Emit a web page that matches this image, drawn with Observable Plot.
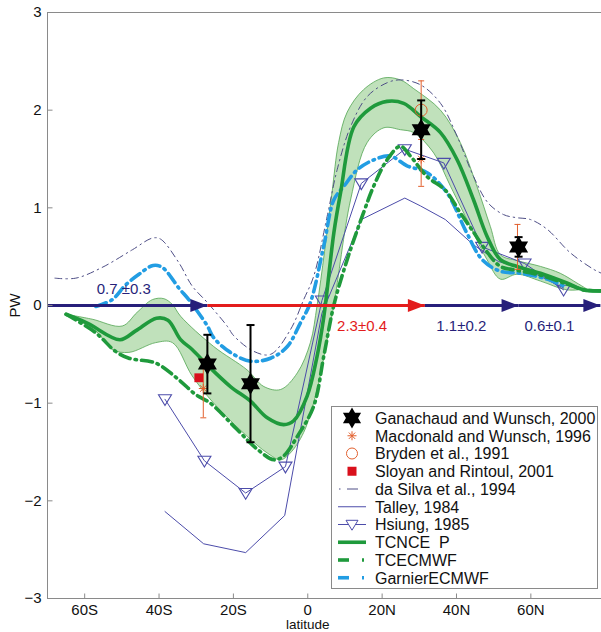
<!DOCTYPE html>
<html><head><meta charset="utf-8">
<script src="https://cdn.jsdelivr.net/npm/d3@7"></script>
<script src="https://cdn.jsdelivr.net/npm/@observablehq/plot@0.6"></script>
<style>
html,body{margin:0;padding:0;background:#fff;}
#wrap{position:relative;width:601px;height:632px;overflow:hidden;font-family:"Liberation Sans",Arial,Helvetica,sans-serif;}
</style></head><body><div id="wrap"></div>
<script>
// ---------- data (latitude, PW) ----------
const xTicks = [-60, -40, -20, 0, 20, 40, 60];
const xTickLabels = ["60S", "40S", "20S", "0", "20N", "40N", "60N"];
const yTicks = [-3, -2, -1, 0, 1, 2, 3];
const yTickLabels = ["\u22123", "\u22122", "\u22121", "0", "1", "2", "3"];

const tcncep = [[-65,-0.09],[-59.3,-0.18],[-50.5,-0.35],[-46.3,-0.26],[-40.7,-0.13],[-37.6,-0.15],[-34.2,-0.35],[-31.1,-0.45],[-27,-0.61],[-20.8,-0.83],[-15.4,-0.98],[-10.9,-1.15],[-6.5,-1.22],[-3.8,-1.18],[-0.2,-0.93],[2.5,-0.52],[4.3,-0.12],[7,0.74],[8.8,1.15],[12.4,1.83],[16.9,2.02],[21.3,2.09],[25.8,2.07],[30.5,1.93],[35.7,1.77],[40.2,1.49],[44.6,1.08],[48.2,0.71],[51.8,0.47],[56.3,0.40],[62.6,0.33],[69.7,0.23],[74.2,0.16],[78.9,0.15]];
const bandUpper = [[-65,-0.09],[-58,-0.14],[-49.9,-0.21],[-45.9,-0.07],[-41.8,0.06],[-38.7,0.07],[-36.4,0.01],[-34.2,-0.11],[-25.3,-0.42],[-16.3,-0.66],[-11.8,-0.83],[-7.3,-0.86],[-2.8,-0.69],[0.7,-0.38],[2.5,0.0],[4.5,0.55],[6.5,1.15],[8.3,1.67],[10.6,1.98],[15,2.21],[20.4,2.33],[24.9,2.31],[28.5,2.22],[35.7,2.0],[41,1.67],[45.5,1.22],[49.1,0.81],[51.8,0.52],[56.3,0.46],[62.6,0.40],[67.9,0.33],[72.4,0.23],[75,0.17]];
const bandLower = [[-65,-0.09],[-57,-0.26],[-52.6,-0.45],[-48.1,-0.48],[-40.9,-0.38],[-36.4,-0.38],[-31.1,-0.72],[-25.3,-1.0],[-16.3,-1.34],[-10.9,-1.51],[-7.3,-1.58],[-4.7,-1.51],[-1.1,-1.30],[2.5,-0.86],[5.2,-0.35],[7,0.0],[11.5,1.08],[16,1.67],[20.5,1.82],[24.9,1.80],[28.5,1.77],[33.9,1.56],[38.4,1.22],[44.6,0.74],[48.2,0.47],[51.8,0.27],[56.3,0.32],[62.6,0.25],[69.7,0.16],[75,0.17]];
const tcecmwf = [[-65,-0.09],[-57,-0.28],[-51.7,-0.47],[-48.1,-0.54],[-40.9,-0.59],[-34.7,-0.76],[-30.2,-0.91],[-26.2,-1.0],[-19,-1.27],[-13.6,-1.47],[-9.1,-1.58],[-6.5,-1.54],[-2.8,-1.34],[1.6,-1.03],[4.3,-0.52],[7,0.0],[10.6,0.47],[15,0.95],[17.7,1.22],[21.3,1.49],[24.9,1.63],[27.6,1.53],[32.1,1.32],[37,1.18],[41,0.95],[44.6,0.75],[48.2,0.55],[51.8,0.40],[56.3,0.36],[62.6,0.31],[69.7,0.22],[74.2,0.16],[78.9,0.15]];
const garnier = [[-57,-0.01],[-52.6,0.06],[-49,0.21],[-45.4,0.32],[-41.6,0.41],[-39.1,0.39],[-34.5,0.17],[-32,0.06],[-27,-0.21],[-25.3,-0.33],[-20.8,-0.48],[-15.4,-0.57],[-10,-0.54],[-5.5,-0.42],[-2,-0.18],[0.7,0.03],[4.3,0.61],[7,1.08],[9.7,1.22],[13.3,1.39],[17.7,1.49],[22.2,1.53],[26.7,1.43],[32.1,1.36],[37.5,1.15],[42.8,0.74],[46.9,0.47],[51.8,0.35],[57.2,0.33],[64.4,0.27],[68.8,0.20]];
const daSilva = [[-68,0.28],[-62.4,0.28],[-55.3,0.39],[-47.2,0.57],[-41.8,0.69],[-39.6,0.68],[-34.7,0.44],[-31.1,0.20],[-27,0.03],[-21.7,-0.21],[-19.9,-0.31],[-14.5,-0.47],[-10,-0.50],[-4.7,-0.25],[-1.1,0.06],[1.6,0.30],[5.2,0.91],[7.9,1.39],[11.5,1.83],[16,2.14],[21.3,2.28],[24.9,2.31],[30.3,2.26],[35.7,2.07],[40.2,1.73],[44.6,1.32],[48.5,1.05],[52.7,0.93],[56,0.90],[59.9,0.88],[64.4,0.78],[70.6,0.54],[76.9,0.37],[79,0.33]];
const talley = [[-38.4,-2.11],[-28,-2.44],[-16.7,-2.53],[-6.2,-2.15],[3.8,-0.08],[14.4,0.88],[26.1,1.10],[30.3,1.02],[37,0.88],[44.6,0.62],[51.3,0.45],[58.3,0.38],[68.8,0.18]];
const hsiung = [[-38.4,-0.96],[-27.8,-1.59],[-16.7,-1.92],[-6.0,-1.65],[3.8,0.05],[14.4,1.25],[26.1,1.60],[36.6,1.46],[46.9,0.60],[58.3,0.43],[68.8,0.16]];

// Ganachaud & Wunsch 2000: lat, value, error
const ganLat = [-27, -15.4, 30.5, 56.7];
const ganVal = [-0.6, -0.8, 1.8, 0.6];
const ganErr = [0.3, 0.6, 0.3, 0.1];
// Macdonald & Wunsch 1996
const macLat = [-28.1, 30.5, 56.4];
const macVal = [-0.85, 1.5, 0.6];
const macErr = [0.3, 0.28, 0.23];
// Bryden et al. 1991
const bryLat = [30.5];
const bryVal = [2.0];
const bryErr = [0.3];
// Sloyan & Rintoul 2001
const sloLat = [-29.3];
const sloVal = [-0.74];

// transport arrows along the zero line
const arrowFrom = [-70, -27, 31.5, 56.7];
const arrowTo = [-27, 31.5, 56.7, 78.7];
const arrowColor = ["#271f7a", "#e31c1c", "#271f7a", "#271f7a"];
const arrowLabels = ["0.7 \u00b10.3", "2.3\u00b10.4", "1.1\u00b10.2", "0.6\u00b10.1"];
const arrowLabelLat = [-49.5, 14.6, 41.3, 65];
const arrowLabelVal = [0.17, -0.21, -0.21, -0.21];

const legendLabels = ["Ganachaud and Wunsch, 2000", "Macdonald and Wunsch, 1996", "Bryden et al., 1991", "Sloyan and Rintoul, 2001", "da Silva et al., 1994", "Talley, 1984", "Hsiung, 1985", "TCNCE  P", "TCECMWF", "GarnierECMWF"];

// ---------- helpers ----------
const pts = a => a.map(([x, y]) => ({x, y}));
const GREEN = "#1f9a3c", BLUE = "#229de3", PURPLE = "#4c4caa", DASIL = "#4e4e86", ORANGE = "#e2602e";

const hexagram = {draw(ctx, size) {
  const R = Math.sqrt(size / Math.PI), r = R / Math.sqrt(3);
  for (let k = 0; k < 12; k++) {
    const a = (k * 30 - 90) * Math.PI / 180, rr = k % 2 ? r : R;
    const px = rr * Math.cos(a), py = rr * Math.sin(a);
    k ? ctx.lineTo(px, py) : ctx.moveTo(px, py);
  }
  ctx.closePath();
}};
const triDown = {draw(ctx, size) {
  const r = Math.sqrt(size / Math.PI);
  ctx.moveTo(-r, -r * 0.7); ctx.lineTo(r, -r * 0.7); ctx.lineTo(0, r * 0.95); ctx.closePath();
}};
const asterisk = {draw(ctx, size) {
  const r = Math.sqrt(size / Math.PI);
  for (let k = 0; k < 4; k++) {
    const a = k * Math.PI / 4;
    ctx.moveTo(-r * Math.cos(a), -r * Math.sin(a)); ctx.lineTo(r * Math.cos(a), r * Math.sin(a));
  }
}};
const hcap = {draw(ctx, size) { const r = Math.sqrt(size / Math.PI); ctx.moveTo(-r, 0); ctx.lineTo(r, 0); }};
const tickUp = {draw(ctx) { ctx.moveTo(0, 0); ctx.lineTo(0, -5); }};
const tickRight = {draw(ctx) { ctx.moveTo(0, 0); ctx.lineTo(5, 0); }};
const head = {draw(ctx) { ctx.moveTo(0, 0); ctx.lineTo(-17, -6.5); ctx.lineTo(-17, 6.5); ctx.closePath(); }};

const band = pts(bandUpper).concat(pts(bandLower).reverse());
const gan = ganLat.map((x, i) => ({x, y: ganVal[i], lo: ganVal[i] - ganErr[i], hi: ganVal[i] + ganErr[i]}));
const mac = macLat.map((x, i) => ({x, y: macVal[i], lo: macVal[i] - macErr[i], hi: macVal[i] + macErr[i]}));
const bry = bryLat.map((x, i) => ({x, y: bryVal[i], lo: bryVal[i] - bryErr[i], hi: bryVal[i] + bryErr[i]}));
const slo = sloLat.map((x, i) => ({x, y: sloVal[i]}));
const arrows = arrowFrom.map((x1, i) => ({x1, x2: arrowTo[i], c: arrowColor[i]}));
const alabels = arrowLabels.map((t, i) => ({t, x: arrowLabelLat[i], y: arrowLabelVal[i], c: arrowColor[i]}));
const ends = d => [{x: d.x, y: d.lo}, {x: d.x, y: d.hi}];

const chart = Plot.plot({
  width: 601, height: 632,
  marginLeft: 47, marginRight: 0, marginTop: 12, marginBottom: 34,
  x: {domain: [-70, 79], axis: null},
  y: {domain: [-3, 3], axis: null},
  style: {fontFamily: '"Liberation Sans", Arial, Helvetica, sans-serif', fontSize: "15px", background: "white"},
  marks: [
    // spread band
    Plot.line(band, {x: "x", y: "y", fill: "#c0e1bb", stroke: "#52a552", strokeWidth: 0.8, curve: "catmull-rom"}),
    // Talley & Hsiung
    Plot.line(pts(talley), {x: "x", y: "y", stroke: PURPLE, strokeWidth: 1}),
    Plot.line(pts(hsiung), {x: "x", y: "y", stroke: PURPLE, strokeWidth: 1}),
    Plot.dot(pts(hsiung), {x: "x", y: "y", symbol: triDown, r: 6.5, stroke: PURPLE, strokeWidth: 1.1, fill: "none"}),
    // da Silva
    Plot.line(pts(daSilva), {x: "x", y: "y", stroke: DASIL, strokeWidth: 1, strokeDasharray: "7,4,1.5,4", curve: "catmull-rom"}),
    // Garnier ECMWF
    Plot.line(pts(garnier), {x: "x", y: "y", stroke: BLUE, strokeWidth: 3.6, strokeDasharray: "11,5,1.5,5", curve: "catmull-rom"}),
    // TC ECMWF
    Plot.line(pts(tcecmwf), {x: "x", y: "y", stroke: GREEN, strokeWidth: 3.6, strokeDasharray: "11,5,1.5,5", curve: "catmull-rom"}),
    // TC NCEP
    Plot.line(pts(tcncep), {x: "x", y: "y", stroke: GREEN, strokeWidth: 3.6, curve: "catmull-rom"}),
    // arrows
    Plot.link(arrows, {x1: "x1", x2: "x2", y1: 0, y2: 0, stroke: "c", strokeWidth: 3}),
    Plot.dot(arrows, {x: "x2", y: 0, symbol: head, r: 5, fill: "c", stroke: "none"}),
    Plot.text(alabels, {x: "x", y: "y", text: "t", fill: "c", fontSize: 15}),
    // Macdonald & Bryden error bars
    Plot.ruleX(mac, {x: "x", y1: "lo", y2: "hi", stroke: ORANGE, strokeWidth: 1}),
    Plot.dot(mac.flatMap(ends), {x: "x", y: "y", symbol: hcap, r: 3, stroke: ORANGE, strokeWidth: 1}),
    Plot.ruleX(bry, {x: "x", y1: "lo", y2: "hi", stroke: ORANGE, strokeWidth: 1}),
    Plot.dot(bry.flatMap(ends), {x: "x", y: "y", symbol: hcap, r: 3, stroke: ORANGE, strokeWidth: 1}),
    Plot.dot(mac, {x: "x", y: "y", symbol: asterisk, r: 4.5, stroke: ORANGE, strokeWidth: 1}),
    Plot.dot(bry, {x: "x", y: "y", symbol: "circle", r: 6, stroke: ORANGE, strokeWidth: 1, fill: "none"}),
    Plot.dot(slo, {x: "x", y: "y", symbol: "square", r: 5, fill: "#d9101c", stroke: "none"}),
    // Ganachaud & Wunsch
    Plot.ruleX(gan, {x: "x", y1: "lo", y2: "hi", stroke: "black", strokeWidth: 2}),
    Plot.dot(gan.flatMap(ends), {x: "x", y: "y", symbol: hcap, r: 4, stroke: "black", strokeWidth: 2}),
    Plot.dot(gan, {x: "x", y: "y", symbol: hexagram, r: 11, fill: "black", stroke: "none"}),
    // frame & ticks
    Plot.ruleX([-70], {stroke: "#8a8a8a", strokeWidth: 1}),
    Plot.ruleY([-3, 3], {stroke: "#8a8a8a", strokeWidth: 1}),
    Plot.dot(xTicks, {x: d => d, y: -3, symbol: tickUp, stroke: "#8a8a8a", strokeWidth: 1}),
    Plot.dot(yTicks, {x: -70, y: d => d, symbol: tickRight, stroke: "#8a8a8a", strokeWidth: 1}),
    Plot.text(xTicks, {x: d => d, y: -3, dy: 12, text: (d, i) => xTickLabels[i], fontSize: 15, fill: "#111"}),
    Plot.text(yTicks, {x: -70, y: d => d, dx: -6, textAnchor: "end", text: (d, i) => yTickLabels[i], fontSize: 15, fill: "#111"}),
    Plot.text(["latitude"], {x: 0, y: -3, dy: 26.5, text: d => d, fontSize: 13.5, fill: "#111"}),
    Plot.text(["PW"], {x: -70, y: 0, dx: -32, rotate: -90, text: d => d, fontSize: 15, fill: "#111"})
  ]
});
document.getElementById("wrap").appendChild(chart);

// ---------- legend ----------
const L = d3.select("#wrap").append("svg")
  .attr("width", 268).attr("height", 183)
  .style("position", "absolute").style("left", "331px").style("top", "406px")
  .style("font-family", '"Liberation Sans", Arial, Helvetica, sans-serif');
L.append("rect").attr("x", 0.5).attr("y", 0.5).attr("width", 266).attr("height", 182)
  .attr("fill", "white").attr("stroke", "#8a8a8a");
const rowY = i => 12 + i * 17.75;
const cx = 21;
L.selectAll("text.l").data(legendLabels).join("text")
  .attr("x", 44).attr("y", (d, i) => rowY(i)).attr("dy", "0.36em")
  .attr("font-size", 16).attr("fill", "#111").style("white-space", "pre").text(d => d);
const sym = (type, r) => { const p = d3.path(); type.draw(p, Math.PI * r * r); return p.toString(); };
L.append("path").attr("transform", `translate(${cx},${rowY(0)})`).attr("d", sym(hexagram, 10.5)).attr("fill", "black");
L.append("path").attr("transform", `translate(${cx},${rowY(1)})`).attr("d", sym(asterisk, 4.5)).attr("stroke", ORANGE).attr("fill", "none");
L.append("circle").attr("cx", cx).attr("cy", rowY(2)).attr("r", 5.5).attr("stroke", ORANGE).attr("fill", "none");
L.append("rect").attr("x", cx - 4.5).attr("y", rowY(3) - 4.5).attr("width", 9).attr("height", 9).attr("fill", "#d9101c");
L.append("line").attr("x1", 8).attr("x2", 9.5).attr("y1", rowY(4)).attr("y2", rowY(4)).attr("stroke", DASIL);
L.append("line").attr("x1", 16).attr("x2", 27).attr("y1", rowY(4)).attr("y2", rowY(4)).attr("stroke", DASIL);
L.append("line").attr("x1", 7).attr("x2", 35).attr("y1", rowY(5)).attr("y2", rowY(5)).attr("stroke", PURPLE);
L.append("line").attr("x1", 7).attr("x2", 35).attr("y1", rowY(6)).attr("y2", rowY(6)).attr("stroke", PURPLE);
L.append("path").attr("transform", `translate(${cx},${rowY(6)})`).attr("d", sym(triDown, 6)).attr("stroke", PURPLE).attr("fill", "white");
L.append("line").attr("x1", 7).attr("x2", 35).attr("y1", rowY(7)).attr("y2", rowY(7)).attr("stroke", GREEN).attr("stroke-width", 3.6);
[[8, GREEN], [9, BLUE]].forEach(([i, c]) => {
  L.append("line").attr("x1", 7).attr("x2", 18).attr("y1", rowY(i)).attr("y2", rowY(i)).attr("stroke", c).attr("stroke-width", 3.6);
  L.append("line").attr("x1", 31).attr("x2", 33).attr("y1", rowY(i)).attr("y2", rowY(i)).attr("stroke", c).attr("stroke-width", 3.6);
});
</script></body></html>
